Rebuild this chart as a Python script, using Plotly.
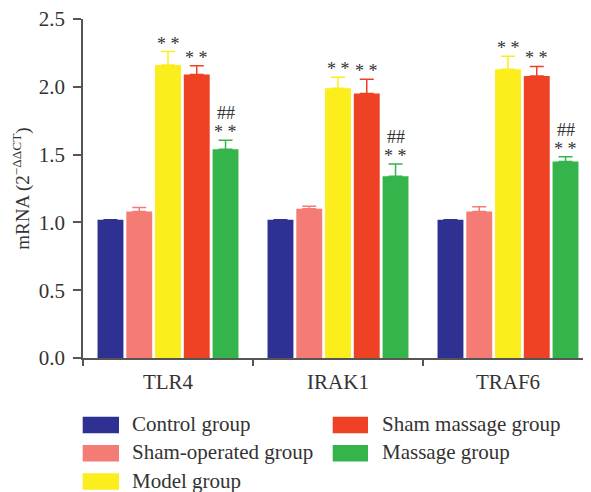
import plotly.graph_objects as go

categories = ["TLR4", "IRAK1", "TRAF6"]
groups = ["Control group", "Sham-operated group", "Model group", "Sham massage group", "Massage group"]
colors = ["#2E3192", "#F47C74", "#FCEE1C", "#EF4224", "#34B44B"]

control = [1.02, 1.02, 1.02]
sham_operated = [1.08, 1.10, 1.08]
model = [2.16, 1.99, 2.13]
sham_massage = [2.09, 1.95, 2.08]
massage = [1.54, 1.34, 1.45]

control_err = [0.0, 0.0, 0.0]
sham_operated_err = [0.03, 0.02, 0.035]
model_err = [0.10, 0.08, 0.095]
sham_massage_err = [0.065, 0.105, 0.07]
massage_err = [0.065, 0.09, 0.035]

values = [control, sham_operated, model, sham_massage, massage]
errors = [control_err, sham_operated_err, model_err, sham_massage_err, massage_err]

# significance marks: (group index, text lines)
marks = {2: ["* *"], 3: ["* *"], 4: ["* *", "##"]}

OFF = 8  # browser body margin
W, H = 591 - OFF, 492 - OFF
L, R, T, B = 83 - OFF, 0, 19 - OFF, 492 - 358
PW, PH = W - L - R, H - T - B
bargap = 0.154
bargroupgap = 0.1
cat_px = 170.0

FONT = "Liberation Serif"
TXT = "#333333"

fig = go.Figure()
for k, (name, vals, errs, col) in enumerate(zip(groups, values, errors, colors)):
    fig.add_trace(go.Bar(
        x=categories, y=vals, name=name, marker=dict(color=col, line=dict(width=0)),
        error_y=dict(type="data", array=errs, arrayminus=[0] * len(errs), symmetric=False,
                     color=col, thickness=1.5, width=7, visible=True),
        showlegend=False,
    ))

annotations = []
slot = (1 - bargap) / len(groups)
for k, lines in marks.items():
    for i in range(len(categories)):
        xpos = i - (1 - bargap) / 2 + (k + 0.5) * slot
        top = values[k][i] + errors[k][i]
        for j, t in enumerate(lines):
            annotations.append(dict(
                x=xpos, y=top, xref="x", yref="y", text=t, showarrow=False,
                yanchor="bottom", yshift=-3 + 19 * j, borderpad=0,
                font=dict(family=FONT, size=18, color=TXT),
            ))

def px(xp):
    return (xp - OFF - L) / PW

def py(yp):
    return (H - B - (yp - OFF)) / PH

shapes = []
legend_pos = [(0, 0), (0, 1), (0, 2), (1, 0), (1, 1)]
col_x = [(82.7, 119, 131), (332.7, 368, 381)]
row_y = [425, 453.3, 481.5]
for (c, r), name, col in zip(legend_pos, groups, colors):
    x0, x1, xt = col_x[c]
    yc = row_y[r]
    shapes.append(dict(type="rect", xref="paper", yref="paper",
                       x0=px(x0), x1=px(x1), y0=py(yc + 8.3), y1=py(yc - 8.3),
                       fillcolor=col, line=dict(width=0)))
    annotations.append(dict(x=px(xt), y=py(yc - 1), xref="paper", yref="paper", text=name,
                            showarrow=False, xanchor="left", yanchor="middle", borderpad=0,
                            font=dict(family=FONT, size=21, color=TXT)))

fig.update_layout(
    width=W, height=H,
    margin=dict(l=L, r=R, t=T, b=B, autoexpand=False),
    barmode="group", bargap=bargap, bargroupgap=bargroupgap,
    plot_bgcolor="white", paper_bgcolor="white",
    font=dict(family=FONT, color=TXT),
    annotations=annotations, shapes=shapes,
    showlegend=False,
)
fig.update_xaxes(
    range=[-0.5, -0.5 + PW / cat_px],
    showline=True, linecolor="#555555", linewidth=1.5,
    ticks="outside", tickson="boundaries", ticklen=6, tickwidth=1.5, tickcolor="#555555",
    tickfont=dict(family=FONT, size=21, color=TXT), showgrid=False, zeroline=False,
    ticklabelstandoff=4,
)
fig.update_yaxes(
    range=[0, 2.5], tickvals=[0, 0.5, 1.0, 1.5, 2.0, 2.5], ticktext=["0.0", "0.5", "1.0", "1.5", "2.0", "2.5"],
    showline=True, linecolor="#555555", linewidth=1.5,
    ticks="outside", ticklen=8, tickwidth=1.5, tickcolor="#555555",
    tickfont=dict(family=FONT, size=21, color=TXT), showgrid=False, zeroline=False,
    ticklabelstandoff=4, ticklabeloverflow="allow",
    title=dict(text="mRNA (2<sup>−ΔΔCT</sup>)", font=dict(family=FONT, size=19, color=TXT), standoff=4),
)

fig.write_html("out.html")
